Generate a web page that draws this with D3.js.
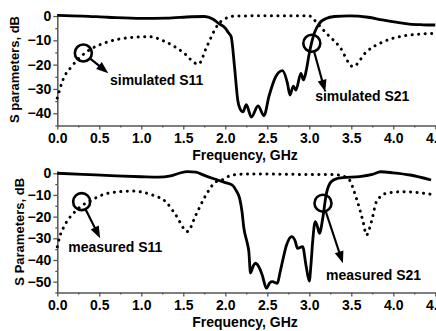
<!DOCTYPE html>
<html><head><meta charset="utf-8">
<script src="https://cdn.jsdelivr.net/npm/d3@7"></script>
<style>
html,body{margin:0;padding:0;background:#fff;}
svg{display:block;font-family:"Liberation Sans",Arial,sans-serif;font-weight:bold;}
</style></head>
<body><svg id="c" width="436" height="331"></svg>
<script>
// ---------- data ----------
const xTicks = [0, 0.5, 1.0, 1.5, 2.0, 2.5, 3.0, 3.5, 4.0, 4.5];
const yTicksTop = [0, -10, -20, -30, -40];
const yTicksBot = [0, -10, -20, -30, -40, -50];

const simS21F = [0, 0.3, 0.6, 1.0, 1.3, 1.6, 1.75, 1.85, 1.92, 2.0, 2.04, 2.07, 2.11, 2.15, 2.19, 2.21, 2.25, 2.31, 2.39, 2.46, 2.52, 2.6, 2.68, 2.74, 2.77, 2.81, 2.84, 2.9, 2.93, 2.96, 3.0, 3.06, 3.12, 3.2, 3.3, 3.48, 3.7, 3.87, 4.05, 4.19, 4.35, 4.5];
const simS21V = [0.3, 0, -0.5, -1.0, -0.9, -0.3, -0.2, -1.2, -3, -5, -7, -8.5, -21, -35, -39, -39.4, -36.5, -41.6, -37, -41, -33, -25, -22.5, -27.7, -32.5, -28.8, -30.5, -23.6, -26.3, -23, -15.3, -7, -3, -1, -0.2, 0.1, -0.5, -1.6, -2.6, -3.3, -3.6, -3.7];

const simS11F = [0, 0.07, 0.17, 0.35, 0.57, 0.89, 1.09, 1.29, 1.49, 1.68, 1.78, 1.91, 1.97, 2.12, 2.5, 3.0, 3.04, 3.2, 3.36, 3.52, 3.68, 3.88, 4.12, 4.5];
const simS11V = [-33.8, -26, -20.8, -14.7, -11, -8.8, -8.5, -10.6, -14.7, -19.8, -12.6, -3.7, -1.6, 0, 0.1, 0.1, -1, -7, -12.6, -20.8, -14.7, -10.6, -8.2, -7.1];

const measS21F = [0, 0.3, 0.7, 1.0, 1.2, 1.35, 1.45, 1.55, 1.65, 1.75, 1.9, 2.0, 2.08, 2.13, 2.17, 2.2, 2.22, 2.26, 2.28, 2.30, 2.33, 2.36, 2.41, 2.44, 2.49, 2.53, 2.56, 2.62, 2.65, 2.68, 2.73, 2.79, 2.83, 2.86, 2.92, 2.96, 3.0, 3.02, 3.04, 3.07, 3.1, 3.12, 3.16, 3.2, 3.26, 3.33, 3.4, 3.6, 3.75, 3.85, 4.0, 4.2, 4.45];
const measS21V = [0, -0.5, -1.2, -1.6, -1.8, -1.2, 0, 0.8, 0.5, -1, -3, -4.3, -5.4, -8, -11.5, -18, -25, -32, -36, -46, -43, -41.5, -44, -47, -53, -50.5, -50, -50.8, -46, -40.8, -33, -29.2, -31, -34.6, -33.8, -42.3, -49.7, -42, -31.5, -22.3, -25, -27.7, -20.8, -10, -3.9, -2.4, -2, -1.5, -0.5, 0.7, 0.2, -0.8, -3.1];

const measS11F = [0, 0.03, 0.09, 0.21, 0.41, 0.61, 0.89, 1.13, 1.29, 1.41, 1.55, 1.65, 1.77, 1.89, 1.96, 2.08, 2.3, 2.8, 3.3, 3.46, 3.56, 3.64, 3.68, 3.74, 3.8, 3.92, 4.12, 4.45];
const measS11V = [-33.9, -29.2, -23.9, -17.7, -12.3, -9.2, -8.2, -10, -13.1, -19.2, -26.9, -19.2, -10, -3.9, -3.1, -0.8, -0.3, -0.5, -0.6, -2.3, -11.5, -22.3, -28.5, -22.3, -13.1, -9.2, -8.5, -9.7];

// annotations (data coordinates)
const annTop = [
  {label: "simulated S11", cx: 0.31, cy: -15.2, tx: 0.607, ty: -23.5, lx: 0.627, ly: -28.4},
  {label: "simulated S21", cx: 3.03, cy: -11.2, tx: 3.19, ty: -31.2, lx: 3.07, ly: -35.0}
];
const annBot = [
  {label: "measured S11", cx: 0.29, cy: -13.1, tx: 0.51, ty: -30.0, lx: 0.13, ly: -36.5},
  {label: "measured S21", cx: 3.163, cy: -13.8, tx: 3.40, ty: -41.5, lx: 3.20, ly: -49.4}
];

// ---------- drawing ----------
const svg = d3.select("#c");
svg.append("rect").attr("width", 436).attr("height", 331).attr("fill", "#fff");

const x = d3.scaleLinear().domain([0, 4.5]).range([57.3, 435.3]);
const yTop = d3.scaleLinear().domain([-45, 1]).range([125.4, 13.6]);
const yBot = d3.scaleLinear().domain([-55, 1]).range([292.5, 171.1]);

const minorX = d3.range(0.25, 4.5, 0.5);
const AX = "#555";

function panel(y, yTicks, yMin, series, anns, yTitle, yTitleX, xTitleY) {
  const g = svg.append("g");
  const bottom = y.range()[0];
  // x axis
  const xa = g.append("g").attr("transform", `translate(0,${bottom})`)
    .call(d3.axisBottom(x).tickValues(xTicks).tickFormat(d3.format(".1f")).tickSize(4).tickSizeOuter(0).tickPadding(4));
  g.append("g").attr("transform", `translate(0,${bottom})`)
    .call(d3.axisBottom(x).tickValues(minorX).tickFormat("").tickSize(2).tickSizeOuter(0))
    .select(".domain").remove();
  // y axis
  const ya = g.append("g").attr("transform", `translate(${x.range()[0]},0)`)
    .call(d3.axisLeft(y).tickValues(yTicks).tickFormat(d3.format("d")).tickSize(4).tickSizeOuter(0).tickPadding(2));
  const minorY = yTicks.map(v => v - 5).filter(v => v >= yMin);
  g.append("g").attr("transform", `translate(${x.range()[0]},0)`)
    .call(d3.axisLeft(y).tickValues(minorY).tickFormat("").tickSize(2).tickSizeOuter(0))
    .select(".domain").remove();
  g.selectAll(".domain").attr("stroke", AX).attr("stroke-width", 1.5);
  g.selectAll(".tick line").attr("stroke", AX).attr("stroke-width", 1.3);
  g.selectAll(".tick text").attr("fill", "#000").style("font-size", "14px").style("font-weight", "bold")
    .style("font-family", '"Liberation Sans",Arial,sans-serif');

  // series
  series.forEach(s => {
    const pts = s.f.map((f, i) => [f, s.v[i]]);
    const line = d3.line().x(d => x(d[0])).y(d => y(d[1])).curve(d3.curveMonotoneX);
    const p = g.append("path").attr("d", line(pts)).attr("fill", "none").attr("stroke", "#000");
    if (s.dotted) {
      p.attr("stroke-width", 3).attr("stroke-dasharray", "0.1 6.4").attr("stroke-linecap", "round");
    } else {
      p.attr("stroke-width", 2.8).attr("stroke-linejoin", "round");
    }
  });

  // annotations
  const r = 8.5;
  anns.forEach(a => {
    const cx = x(a.cx), cy = y(a.cy), tx = x(a.tx), ty = y(a.ty);
    g.append("circle").attr("cx", cx).attr("cy", cy).attr("r", r)
      .attr("fill", "none").attr("stroke", "#000").attr("stroke-width", 2.6);
    const dx = tx - cx, dy = ty - cy, L = Math.hypot(dx, dy);
    const ux = dx / L, uy = dy / L;
    const sx = cx + ux * r, sy = cy + uy * r;
    const hl = 12, hw = 4.5;
    const bx = tx - ux * hl, by = ty - uy * hl;
    g.append("line").attr("x1", sx).attr("y1", sy).attr("x2", bx + ux * 2).attr("y2", by + uy * 2)
      .attr("stroke", "#000").attr("stroke-width", 2.2);
    g.append("path")
      .attr("d", `M${tx},${ty}L${bx - uy * hw},${by + ux * hw}L${bx + uy * hw},${by - ux * hw}Z`)
      .attr("fill", "#000");
    g.append("text").attr("x", x(a.lx)).attr("y", y(a.ly)).text(a.label)
      .style("font-size", "14px").attr("fill", "#000");
  });

  // titles
  g.append("text").attr("x", 245).attr("y", xTitleY).attr("text-anchor", "middle")
    .style("font-size", "14px").text("Frequency, GHz");
  const ym = (y.range()[0] + y.range()[1]) / 2;
  g.append("text").attr("transform", `translate(${yTitleX},${ym}) rotate(-90)`)
    .attr("text-anchor", "middle").style("font-size", "13px").text(yTitle);
}

panel(yTop, yTicksTop, -45,
  [{f: simS11F, v: simS11V, dotted: true}, {f: simS21F, v: simS21V, dotted: false}],
  annTop, "S parameters, dB", 19, 160);
panel(yBot, yTicksBot, -55,
  [{f: measS11F, v: measS11V, dotted: true}, {f: measS21F, v: measS21V, dotted: false}],
  annBot, "S Parameters, dB", 24, 327);
</script></body></html>
